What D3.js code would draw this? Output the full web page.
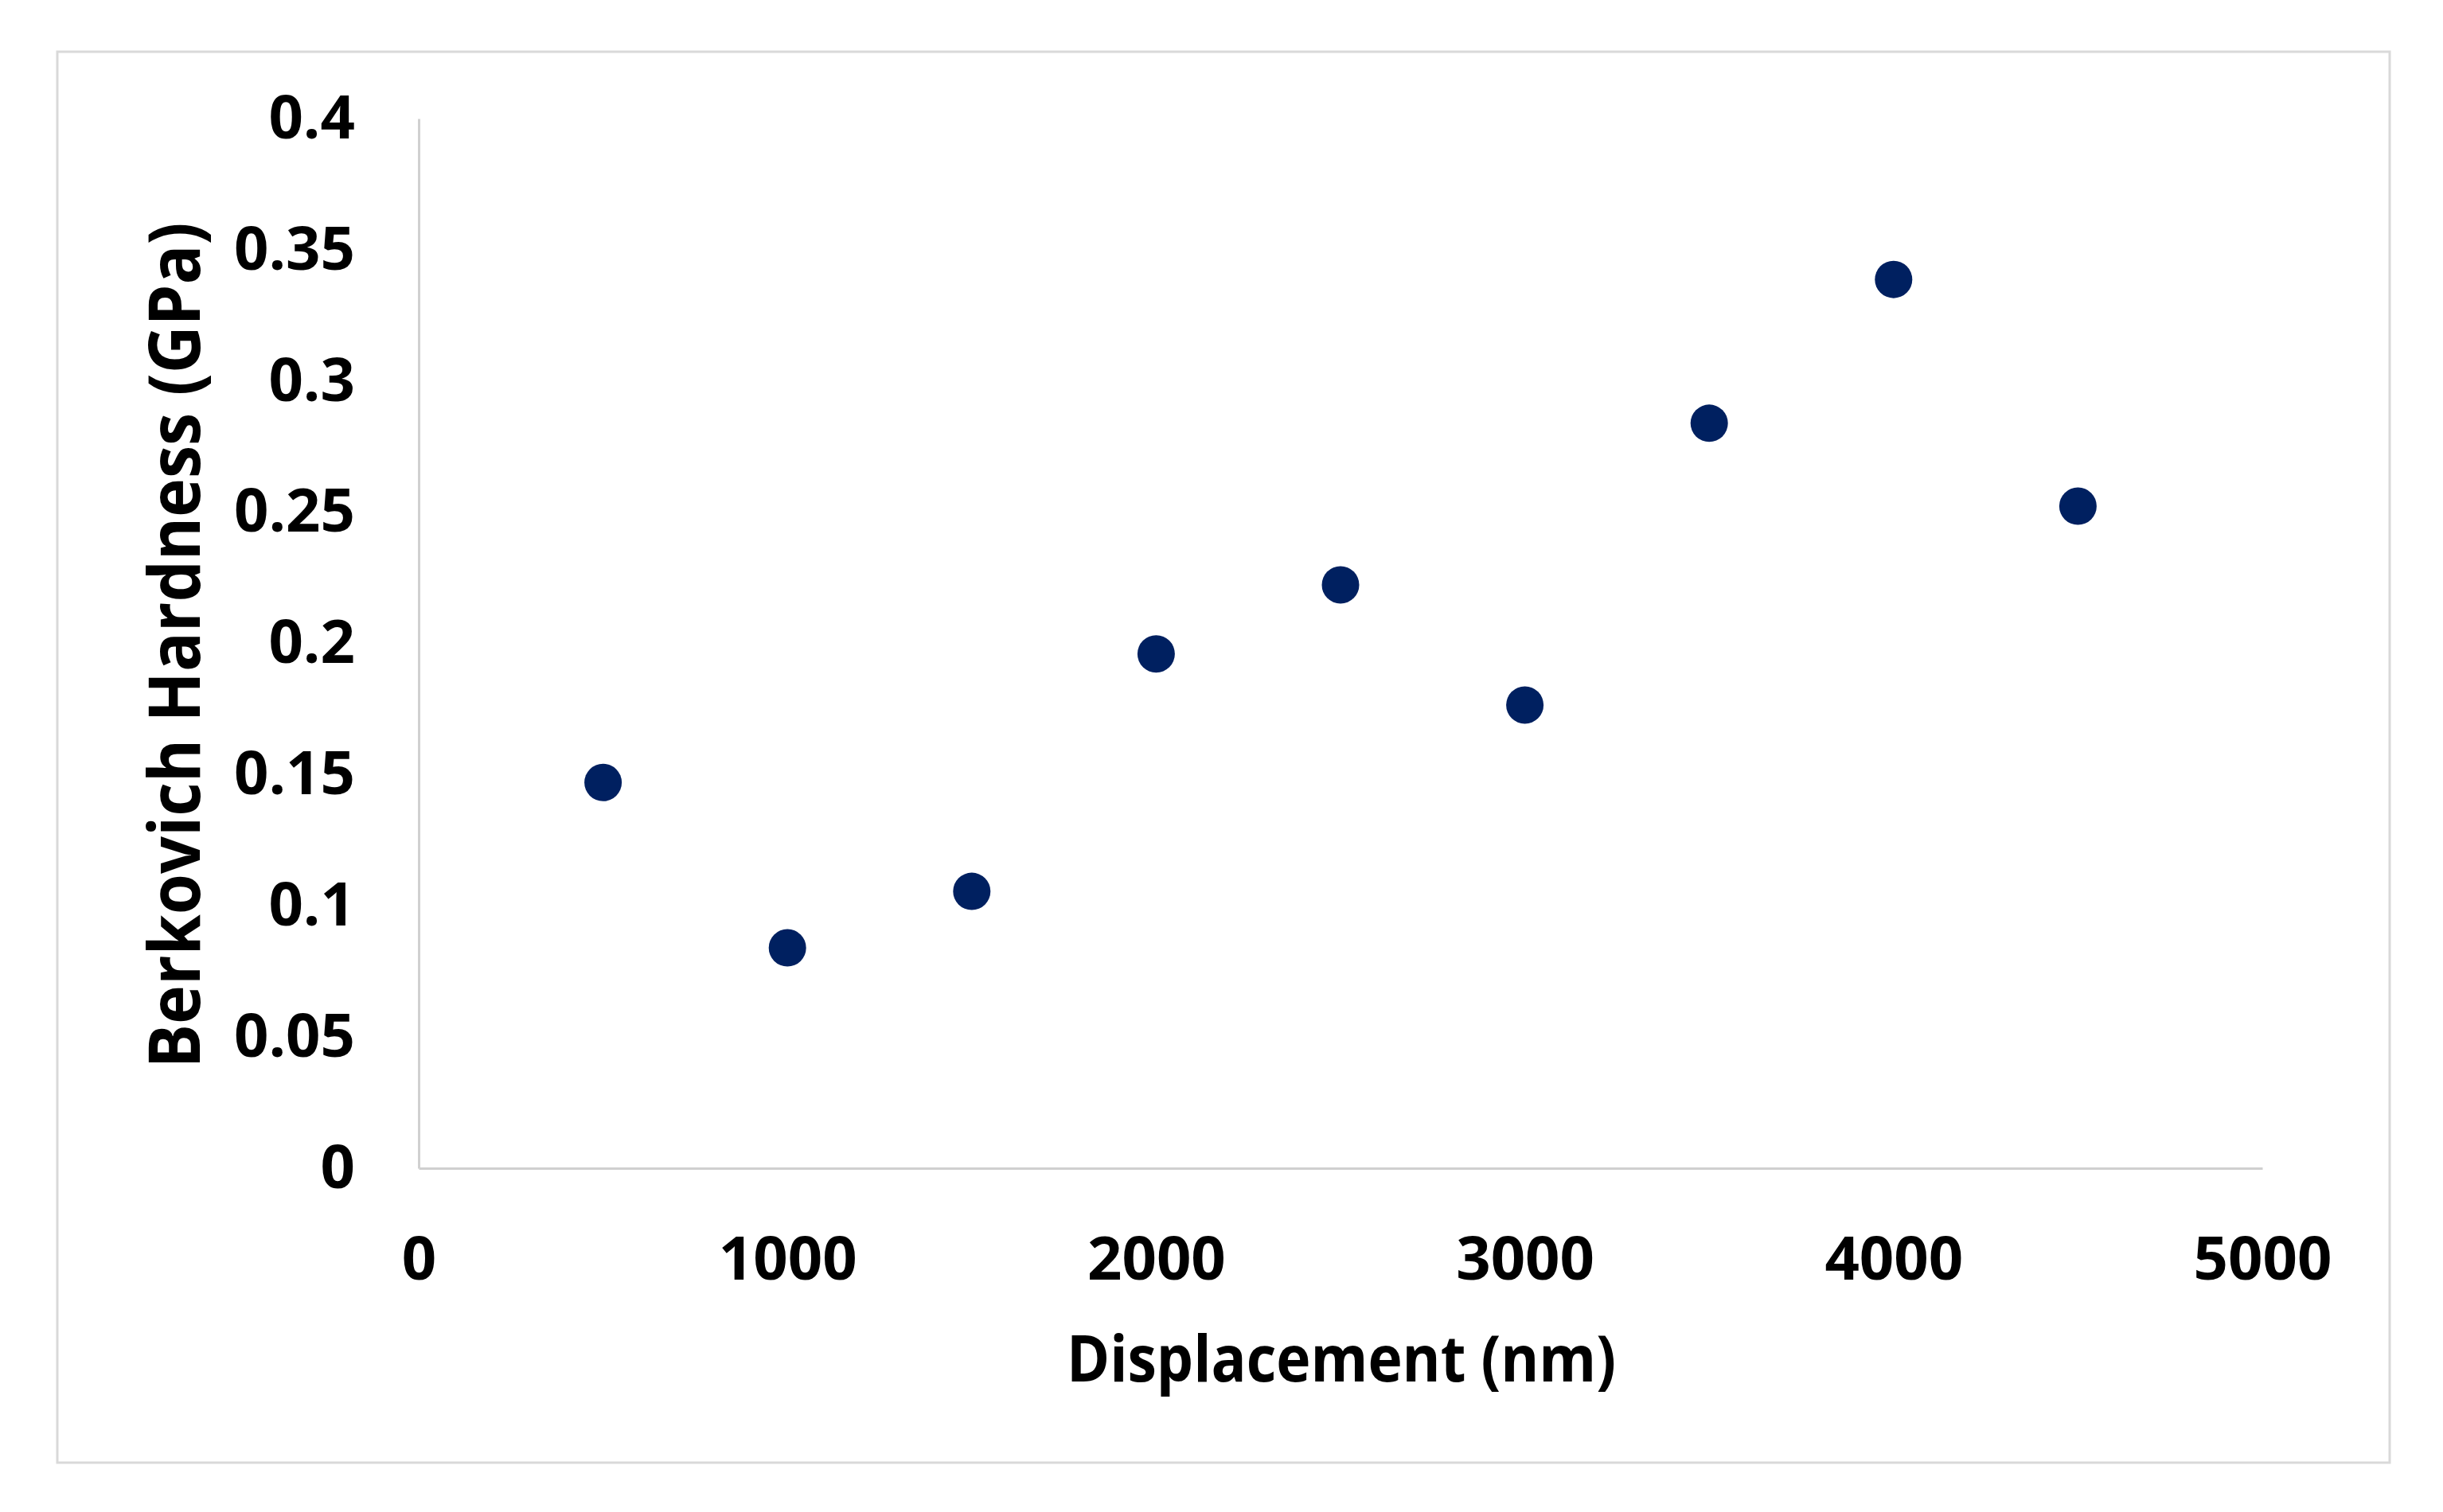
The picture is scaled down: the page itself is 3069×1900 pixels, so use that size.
<!DOCTYPE html>
<html>
<head>
<meta charset="utf-8">
<script src="https://cdn.jsdelivr.net/npm/d3@7"></script>
<style>
  body { margin: 0; background: #fff; }
  text { font-family: "Open Sans", sans-serif; font-weight: bold; fill: #000; }
</style>
</head>
<body>
<div id="chart"></div>
<script>
//data
var displacement = [500, 1000, 1500, 2000, 2500, 3000, 3500, 4000, 4500];
var hardness = [0.147, 0.084, 0.1055, 0.196, 0.2223, 0.1765, 0.2839, 0.3387, 0.2523];
var xTicks = [0, 1000, 2000, 3000, 4000, 5000];
var yTicks = [0, 0.05, 0.1, 0.15, 0.2, 0.25, 0.3, 0.35, 0.4];

//globals
var width = 3069;
var height = 1900;
var margin = {left: 526, top: 149, right: 3069 - 2842, bottom: 1900 - 1468};
var dotColor = "#002060";
var axisColor = "#d0d0d0";

var svg = d3.select("#chart")
    .append("svg")
    .attr("width", width)
    .attr("height", height);

// outer frame
svg.append("rect")
    .attr("x", 72)
    .attr("y", 65)
    .attr("width", 3002 - 72)
    .attr("height", 1838 - 65)
    .attr("fill", "none")
    .attr("stroke", "#d9d9d9")
    .attr("stroke-width", 3);

var x = d3.scaleLinear()
    .domain([0, 5000])
    .range([margin.left, width - margin.right]);

var y = d3.scaleLinear()
    .domain([0, 0.4])
    .range([height - margin.bottom, margin.top]);

var xAxis = svg.append("g")
    .attr("transform", "translate(0," + (height - margin.bottom) + ")")
    .call(d3.axisBottom(x).tickValues(xTicks).tickSize(0).tickPadding(86).tickFormat(d3.format("d")));

var yAxis = svg.append("g")
    .attr("transform", "translate(" + margin.left + ",0)")
    .call(d3.axisLeft(y).tickValues(yTicks).tickSize(0).tickPadding(80).tickFormat(function(d) { return String(+d.toFixed(2)); }));

svg.selectAll(".domain")
    .attr("stroke", axisColor)
    .attr("stroke-width", 3);

xAxis.selectAll("text").style("font-size", "76px").attr("fill", "#000");
yAxis.selectAll("text").style("font-size", "76px").attr("fill", "#000");

// axis titles
svg.append("text")
    .attr("x", 1685)
    .attr("y", 1736)
    .attr("text-anchor", "middle")
    .style("font-size", "80px")
    .attr("textLength", 690)
    .attr("lengthAdjust", "spacingAndGlyphs")
    .text("Displacement (nm)");

svg.append("text")
    .attr("transform", "translate(251,811) rotate(-90)")
    .attr("text-anchor", "middle")
    .style("font-size", "90px")
    .attr("textLength", 1063)
    .attr("lengthAdjust", "spacingAndGlyphs")
    .text("Berkovich Hardness (GPa)");

// points
svg.append("g")
    .selectAll("circle")
    .data(displacement)
    .enter()
    .append("circle")
    .attr("cx", function(d) { return x(d); })
    .attr("cy", function(d, i) { return y(hardness[i]); })
    .attr("r", 23.5)
    .attr("fill", dotColor);
</script>
</body>
</html>
